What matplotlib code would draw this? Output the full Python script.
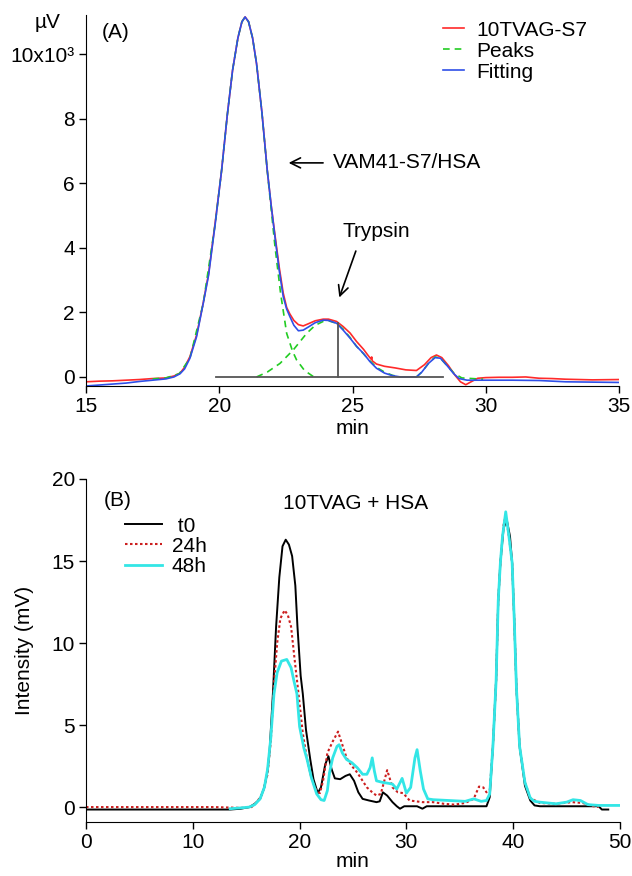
import matplotlib
matplotlib.use("Agg")
import matplotlib.pyplot as plt

plt.rcParams['font.family'] = ['Liberation Sans', 'DejaVu Sans']
plt.rcParams['font.size'] = 15

# ---- panel A: 10TVAG-S7 trace, gaussian peaks and fit (uV x 10^3 vs min)
raw_x = [15.0, 15.5, 16.0, 16.5, 17.0, 17.5, 18.0, 18.3, 18.53, 18.7, 18.9, 19.15, 19.4, 19.6,
         19.85, 20.09, 20.3, 20.5, 20.7, 20.85, 20.97, 21.1, 21.25, 21.4, 21.6, 21.8, 21.95,
         22.09, 22.25, 22.4, 22.53, 22.65, 22.8, 22.97, 23.15, 23.35, 23.6, 23.9, 24.1, 24.4,
         24.65, 24.91, 25.15, 25.41, 25.6, 25.7, 25.72, 25.74, 25.9, 26.2, 26.6, 27.0, 27.4,
         27.7, 27.95, 28.15, 28.35, 28.6, 28.85, 29.05, 29.25, 29.45, 29.7, 30.0, 30.5, 31.0,
         31.5, 32.0, 32.5, 33.0, 34.0, 35.0]
raw_y = [-0.15, -0.13, -0.12, -0.1, -0.08, -0.05, -0.03, 0.03, 0.12, 0.3, 0.63, 1.3, 2.3, 3.2,
         4.8, 6.41, 8.1, 9.5, 10.5, 11.0, 11.15, 11.0, 10.5, 9.7, 8.2, 6.41, 5.3,
         4.4, 3.4, 2.6, 2.15, 1.95, 1.75, 1.62, 1.58, 1.65, 1.74, 1.79, 1.79, 1.72,
         1.56, 1.36, 1.1, 0.86, 0.65, 0.55, 0.62, 0.5, 0.4, 0.33, 0.28, 0.22, 0.2,
         0.38, 0.6, 0.68, 0.6, 0.35, 0.05, -0.15, -0.24, -0.15, -0.04, -0.02, -0.01, -0.01,
         0.0, -0.04, -0.05, -0.07, -0.09, -0.08]

fit_x = [15.0, 15.5, 16.0, 16.5, 17.0, 17.5, 18.0, 18.3, 18.53, 18.7, 18.9, 19.15, 19.4, 19.6,
         19.85, 20.09, 20.3, 20.5, 20.7, 20.85, 20.97, 21.1, 21.25, 21.4, 21.6, 21.8, 21.95,
         22.09, 22.25, 22.4, 22.53, 22.65, 22.8, 22.97, 23.15, 23.35, 23.6, 23.9, 24.1, 24.41,
         24.65, 24.91, 25.15, 25.41, 25.65, 25.9, 26.2, 26.5, 26.8, 27.4, 27.6, 27.85, 28.1,
         28.3, 28.55, 28.8, 29.0, 29.3, 30.0, 31.0, 32.0, 33.0, 34.0, 35.0]
fit_y = [-0.28, -0.25, -0.22, -0.19, -0.14, -0.1, -0.06, 0.0, 0.1, 0.25, 0.58, 1.25, 2.28, 3.15,
         4.75, 6.41, 8.1, 9.5, 10.5, 11.0, 11.15, 11.0, 10.5, 9.7, 8.2, 6.41, 5.3,
         4.34, 3.3, 2.49, 2.1, 1.87, 1.6, 1.43, 1.45, 1.55, 1.68, 1.76, 1.75, 1.66,
         1.45, 1.2, 0.95, 0.73, 0.48, 0.27, 0.12, 0.04, 0.0, 0.0, 0.15, 0.42, 0.6,
         0.58, 0.35, 0.1, -0.05, -0.1, -0.1, -0.1, -0.11, -0.15, -0.16, -0.17]

peak1_x = [17.5, 18.0, 18.5, 18.9, 19.4, 19.85, 20.09, 20.3, 20.5, 20.7, 20.85, 20.97, 21.1,
           21.25, 21.4, 21.6, 21.8, 22.09, 22.3, 22.53, 22.75, 22.9, 23.2, 23.55]
peak1_y = [-0.06, -0.03, 0.1, 0.58, 2.28, 4.75, 6.41, 8.1, 9.5, 10.5, 11.0, 11.15, 11.0,
           10.5, 9.7, 8.2, 6.4, 4.05, 2.6, 1.35, 0.8, 0.53, 0.2, 0.0]
peak2_x = [21.4, 21.8, 22.28, 22.78, 23.28, 23.6, 23.9, 24.1, 24.41, 24.65, 24.91, 25.15,
           25.41, 25.65, 25.9, 26.2, 26.5, 26.8]
peak2_y = [0.0, 0.15, 0.42, 0.84, 1.35, 1.6, 1.72, 1.74, 1.66, 1.48, 1.22, 0.95,
           0.72, 0.5, 0.3, 0.15, 0.05, 0.0]
peak3_x = [27.4, 27.6, 27.85, 28.1, 28.3, 28.55, 28.8, 29.1, 29.5, 29.9]
peak3_y = [0.0, 0.15, 0.42, 0.62, 0.58, 0.35, 0.12, -0.03, -0.05, -0.07]

base_x = [19.88, 28.4]
base_y = [0.0, 0.0]
drop_x = [24.46, 24.46]
drop_y = [0.0, 1.67]

# ---- panel B: 10TVAG + HSA, intensity (mV) vs min
t0_x = [0, 13.5, 14.5, 15.3, 15.8, 16.3, 16.7, 17.0, 17.2, 17.5, 17.8, 18.1, 18.4, 18.7, 19.0,
        19.3, 19.6, 19.8, 20.1, 20.3, 20.6, 21.0, 21.3, 21.7, 22.0, 22.4, 22.7, 23.0, 23.3,
        23.8, 24.3, 24.7, 25.1, 25.5, 25.9, 26.5, 27.2, 27.5, 27.8, 28.2, 28.7, 29.1, 29.4,
        29.8, 31.0, 31.5, 31.9, 35.0, 37.5, 37.8, 38.1, 38.4, 38.6, 38.8, 39.1, 39.4, 39.7,
        39.9, 40.1, 40.3, 40.6, 41.1, 41.6, 42.0, 42.5, 48.0, 48.3, 48.9]
t0_y = [-0.15, -0.15, -0.1, 0.0, 0.2, 0.5, 1.2, 2.2, 3.5, 6.9, 11.0, 14.0, 15.9, 16.3, 16.0,
        15.3, 13.5, 11.0, 8.0, 6.9, 4.7, 2.9, 1.7, 0.85, 1.2, 2.6, 3.1, 2.3, 1.75,
        1.7, 1.9, 2.0, 1.6, 0.9, 0.5, 0.4, 0.3, 0.35, 0.9, 0.7, 0.3, 0.05, -0.1,
        0.05, 0.05, -0.1, 0.05, 0.05, 0.05, 0.6, 3.7, 7.7, 12.6, 14.9, 17.0, 17.5, 16.5,
        14.9, 11.4, 7.3, 3.7, 1.3, 0.4, 0.1, 0.05, 0.05, -0.15, -0.15]

h24_x = [0, 12.0, 14.5, 15.5, 16.0, 16.5, 17.0, 17.3, 17.6, 17.9, 18.2, 18.6, 18.9, 19.2,
         19.5, 19.9, 20.3, 20.7, 21.1, 21.5, 21.9, 22.2, 22.6, 23.1, 23.6, 24.0, 24.4, 24.9,
         25.4, 25.8, 26.3, 26.8, 27.2, 27.6, 28.2, 28.7, 29.2, 29.7, 30.3, 30.9, 31.5, 32.5,
         33.5, 34.5, 35.5, 36.3, 36.8, 37.2, 37.5, 37.8, 38.1, 38.4, 38.6, 38.8, 39.1, 39.3,
         39.6, 39.9, 40.1, 40.3, 40.6, 41.1, 41.6, 42.5, 44.0, 45.5, 46.5, 47.5, 48.0]
h24_y = [0.0, 0.0, -0.05, 0.0, 0.3, 0.8, 2.0, 4.0, 7.5, 10.0, 11.5, 12.0, 11.7, 11.0,
         9.2, 6.9, 4.5, 2.9, 1.8, 1.1, 0.85, 1.6, 3.3, 4.0, 4.6, 3.8, 3.0, 2.5,
         2.1, 1.7, 1.2, 0.9, 0.7, 0.8, 2.25, 1.2, 0.9, 0.85, 0.4, 0.35, 0.3, 0.3,
         0.2, 0.15, 0.25, 0.5, 1.25, 1.2, 0.9, 1.0, 3.7, 7.7, 12.6, 14.9, 17.2, 17.8,
         16.5, 14.9, 11.4, 7.3, 3.7, 1.5, 0.55, 0.25, 0.2, 0.3, 0.25, 0.05, 0.0]

h48_x = [13.5, 14.5, 15.3, 15.8, 16.3, 16.7, 17.0, 17.3, 17.6, 17.9, 18.3, 18.8, 19.2, 19.5,
         19.75, 20.0, 20.4, 20.7, 21.1, 21.6, 22.0, 22.3, 22.6, 22.8, 23.1, 23.5, 23.7, 24.0,
         24.4, 24.9, 25.4, 25.9, 26.3, 26.6, 26.8, 27.0, 27.2, 27.8, 28.3, 28.7, 29.1, 29.6,
         30.0, 30.4, 30.8, 31.0, 31.3, 31.6, 32.0, 32.5, 34.0, 35.5, 36.3, 37.0, 37.5, 37.8,
         38.1, 38.4, 38.6, 38.8, 39.0, 39.3, 39.6, 39.9, 40.1, 40.3, 40.6, 41.1, 41.6, 42.0,
         42.5, 44.0, 45.0, 45.6, 46.3, 47.0, 48.0, 49.5, 50.0]
h48_y = [-0.1, -0.05, 0.0, 0.15, 0.5, 1.2, 2.3, 4.2, 6.9, 8.2, 8.9, 9.0, 8.5, 7.6,
         6.9, 4.9, 3.6, 2.9, 1.8, 0.8, 0.45, 0.4, 1.0, 2.1, 3.0, 3.7, 3.8, 3.3,
         2.9, 2.7, 2.4, 2.0, 2.0, 2.4, 3.0, 2.2, 1.6, 1.5, 1.45, 1.4, 1.1, 1.75,
         0.85, 1.2, 3.0, 3.5, 2.2, 1.1, 0.5, 0.45, 0.4, 0.35, 0.5, 0.35, 0.4, 0.8,
         3.7, 7.7, 12.6, 14.9, 16.5, 18.0, 16.5, 14.9, 11.4, 7.3, 3.7, 1.5, 0.55, 0.35,
         0.3, 0.2, 0.3, 0.45, 0.4, 0.15, 0.1, 0.1, 0.1]

W, H = 632, 876
fig = plt.figure(figsize=(W / 100, H / 100), dpi=100)

axA = fig.add_axes([86 / W, 1 - 386 / H, 533 / W, 371 / H])
axB = fig.add_axes([86 / W, 1 - 822 / H, 534 / W, 343 / H])

for ax in (axA, axB):
    ax.spines['top'].set_visible(False)
    ax.spines['right'].set_visible(False)
    ax.tick_params(direction='out', length=5, width=1, labelsize=15, pad=3)

# panel A
axA.plot(raw_x, raw_y, color='#ff2a2a', lw=1.2, label='10TVAG-S7')
axA.plot(peak1_x, peak1_y, color='#22cc22', lw=1.2, ls=(0, (4, 3)), label='Peaks')
axA.plot(peak2_x, peak2_y, color='#22cc22', lw=1.2, ls=(0, (4, 3)))
axA.plot(peak3_x, peak3_y, color='#22cc22', lw=1.2, ls=(0, (4, 3)))
axA.plot(fit_x, fit_y, color='#2f4fe8', lw=1.2, label='Fitting')
axA.plot(base_x, base_y, color='#555555', lw=1.3)
axA.plot(drop_x, drop_y, color='#555555', lw=1.3)

axA.set_xlim(15, 35)
axA.set_ylim(-0.28, 11.21)
axA.set_xticks([15, 20, 25, 30, 35])
axA.set_yticks([0, 2, 4, 6, 8, 10])
axA.set_yticklabels(['0', '2', '4', '6', '8', '10x10³'])
axA.set_xlabel('min', fontsize=15, labelpad=2)
fig.text(48 / W, 1 - 23 / H, 'µV', ha='center', va='center', fontsize=15)
axA.text(0.03, 0.954, '(A)', transform=axA.transAxes, ha='left', va='center', fontsize=15)
axA.legend(loc='upper left', bbox_to_anchor=(0.67, 0.985), frameon=False, fontsize=15,
           handlelength=1.0, handletextpad=0.6, labelspacing=0.1, borderpad=0, borderaxespad=0)

axA.annotate('', xy=(22.5, 6.63), xytext=(24.0, 6.63),
             arrowprops=dict(arrowstyle='->', color='black', lw=1.2, mutation_scale=18))
axA.text(24.27, 6.63, 'VAM41-S7/HSA', ha='left', va='center', fontsize=15)
axA.annotate('', xy=(24.47, 2.38), xytext=(25.16, 3.98),
             arrowprops=dict(arrowstyle='->', color='black', lw=1.2, mutation_scale=18))
axA.text(25.88, 4.49, 'Trypsin', ha='center', va='center', fontsize=15)

# panel B
axB.plot(t0_x, t0_y, color='black', lw=1.4, label=' t0')
axB.plot(h24_x, h24_y, color='#cc1f1f', lw=1.5, ls=(0, (1.2, 1.2)), label='24h')
axB.plot(h48_x, h48_y, color='#33e6e6', lw=2.0, label='48h')

axB.set_xlim(0, 50)
axB.set_ylim(-0.91, 20)
axB.set_xticks([0, 10, 20, 30, 40, 50])
axB.set_yticks([0, 5, 10, 15, 20])
axB.set_xlabel('min', fontsize=15, labelpad=0)
fig.text(25 / W, 1 - 650 / H, 'Intensity (mV)', rotation=90, ha='center', va='center', fontsize=15)
axB.text(0.034, 0.936, '(B)', transform=axB.transAxes, ha='left', va='center', fontsize=15)
axB.text(0.504, 0.93, '10TVAG + HSA', transform=axB.transAxes, ha='center', va='center', fontsize=15)
axB.legend(loc='upper left', bbox_to_anchor=(0.073, 0.89), frameon=False, fontsize=15,
           handlelength=1.8, handletextpad=0.45, labelspacing=0.05, borderpad=0, borderaxespad=0)

fig.savefig('out.png', dpi=100)
